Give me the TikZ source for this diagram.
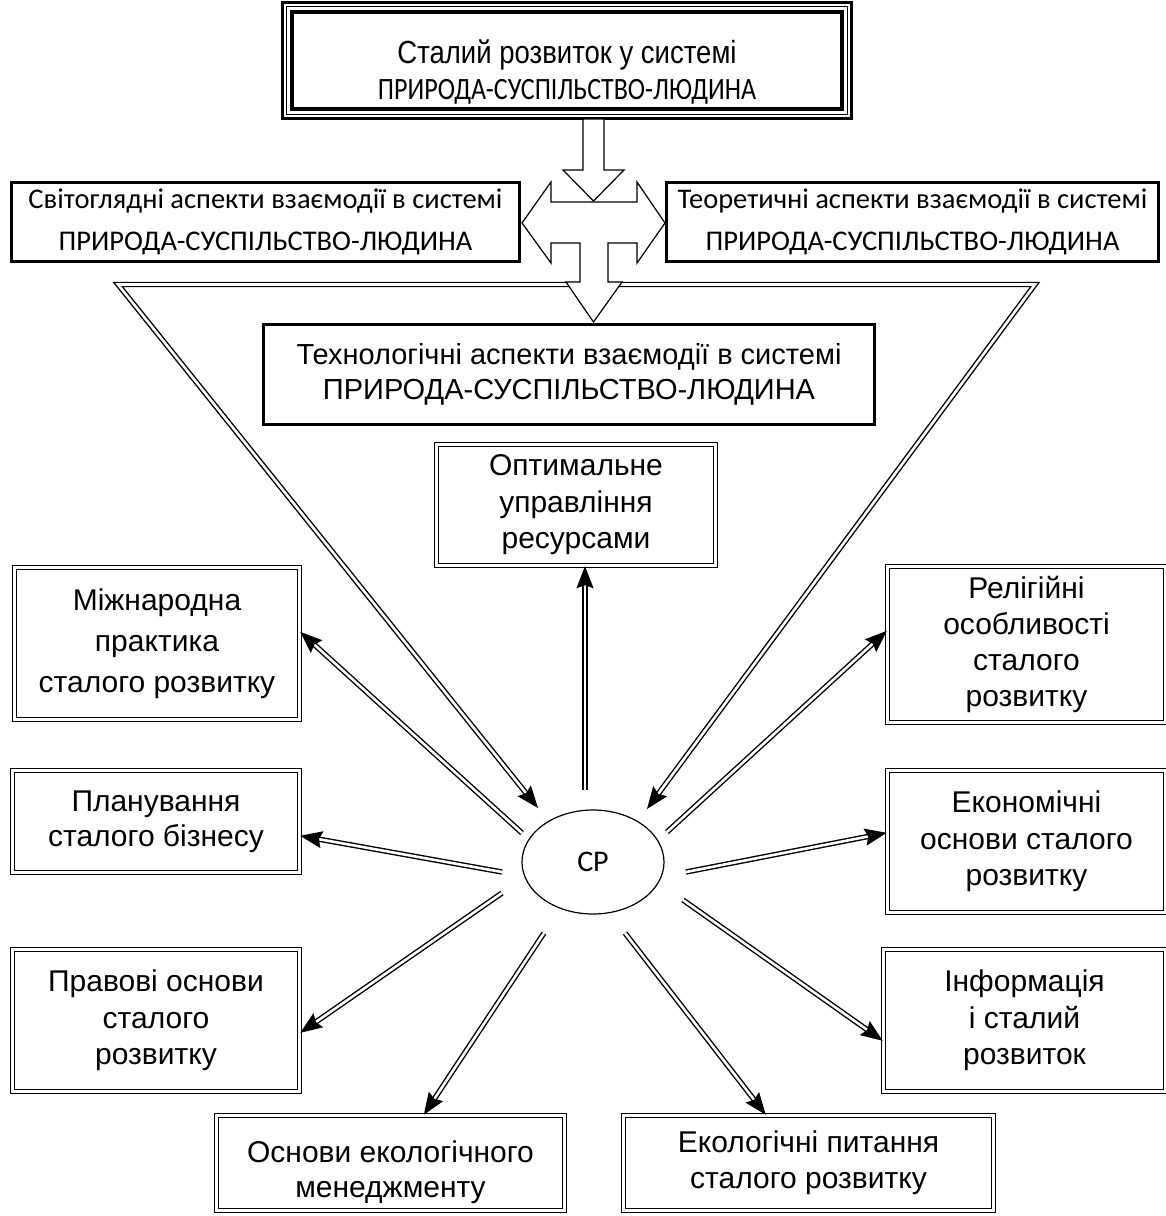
\documentclass[tikz,border=0pt]{standalone}
\usepackage{fontspec}
\setmainfont{Liberation Sans}
\newfontfamily\calibri{Carlito}
\newfontfamily\narrowsans{Liberation Sans}[FakeStretch=0.86]
\newfontfamily\narrowcalibri{Carlito}[FakeStretch=0.84]
\usetikzlibrary{arrows.meta,calc,shapes.geometric}

\begin{document}
\begin{tikzpicture}[x=1pt,y=-1pt,
            every node/.style={align=center, inner sep=0pt, font=\fontsize{30}{36.5}\selectfont},
            thickbox/.style={draw, rectangle, line width=3.2pt},
            dblbox/.style={draw, rectangle, double, double distance=2.4pt, line width=1.4pt},
            dblline/.style={double, double distance=2.6pt, line width=1.4pt, -{Stealth[length=22pt,width=17pt,inset=3pt]}},
            blockarrow/.style={draw, line width=1.2pt, fill=white, line join=miter}
            ]
            \useasboundingbox (0,0) rectangle (1166,1216);

            % Top of the scheme
            \node[thickbox, minimum width=550, minimum height=97, font=\narrowcalibri\fontsize{31}{36}\selectfont] (top) at (567,60.5)
                {\rule{0pt}{47pt}{\narrowsans\fontsize{32}{36}\selectfont Сталий розвиток у системі}\\ПРИРОДА-СУСПІЛЬСТВО-ЛЮДИНА};
            \draw[line width=2.4pt] ($(top.north west)+(-8,-8)$) rectangle ($(top.south east)+(8,8)$);
            \draw[line width=0.9pt] ($(top.north west)+(-4,-4)$) rectangle ($(top.south east)+(4,4)$);

            \node[thickbox, minimum width=508, minimum height=79, font=\calibri\fontsize{28.5}{42}\selectfont] (svit) at (265.5,222)
                {Світоглядні аспекти взаємодії в системі\\ПРИРОДА-СУСПІЛЬСТВО-ЛЮДИНА};
            \node[thickbox, minimum width=492, minimum height=79, font=\calibri\fontsize{28.5}{42}\selectfont] (teor) at (912.5,222)
                {Теоретичні аспекти взаємодії в системі\\ПРИРОДА-СУСПІЛЬСТВО-ЛЮДИНА};
            \node[thickbox, minimum width=611, minimum height=100, font=\fontsize{29}{35}\selectfont] (tech) at (569,374.5)
                {Технологічні аспекти взаємодії в системі\\ПРИРОДА-СУСПІЛЬСТВО-ЛЮДИНА};

            % Centre and the boxes round it
            \node[draw, ellipse, line width=1.2pt, minimum width=142, minimum height=104, font=\calibri\fontsize{30}{36}\selectfont] (cp) at (593,862) {СР};
            \node[dblbox, minimum width=279, minimum height=121] (opt) at (576,505) {Оптимальне\\управління\\ресурсами};
            \node[dblbox, minimum width=285, minimum height=152, font=\fontsize{30}{41}\selectfont] (mizh) at (157,643.5) {Міжнародна\\практика\\сталого розвитку};
            \node[dblbox, minimum width=287, minimum height=102, font=\fontsize{30}{35}\selectfont] (plan) at (156,821.5) {Планування\\сталого бізнесу};
            \node[dblbox, minimum width=287, minimum height=142] (prav) at (156,1020.5) {Правові основи\\сталого\\розвитку};
            \node[dblbox, minimum width=348, minimum height=95, font=\fontsize{30}{35}\selectfont] (osn) at (390.5,1163) {\rule{0pt}{41pt}Основи екологічного\\менеджменту};
            \node[dblbox, minimum width=370, minimum height=95, font=\fontsize{30}{36}\selectfont] (ekol) at (808.5,1163) {Екологічні питання\\сталого розвитку};
            \node[dblbox, minimum width=278, minimum height=156, font=\fontsize{30}{36}\selectfont] (relig) at (1026.5,644.5) {Релігійні\\особливості\\сталого\\розвитку};
            \node[dblbox, minimum width=278, minimum height=142] (ekon) at (1026.5,841.5) {Економічні\\основи сталого\\розвитку};
            \node[dblbox, minimum width=282, minimum height=142] (info) at (1024.5,1020.5) {Інформація\\і сталий\\розвиток};

            \coordinate (lcorner) at (118,284.5);
            \coordinate (rcorner) at (1035,284.5);
            \coordinate (stemL) at (581,284.5);
            \coordinate (stemR) at (607,284.5);

            % Double connectors
            \draw[dblline] (stemL) -- (lcorner) -- ($(cp)+(-55,-54)$);
            \draw[dblline] (stemR) -- (rcorner) -- ($(cp)+(54,-53)$);
            \draw[dblline] ($(cp)+(-8,-72)$) -- ($(opt.south)+(9,0)$);
            \draw[dblline] ($(cp)+(-71,-29)$) -- ($(mizh.north east)+(0,65)$);
            \draw[dblline] ($(cp)+(-91,10)$) -- ($(plan.north east)+(0,66)$);
            \draw[dblline] ($(cp)+(-91,31)$) -- ($(prav.north east)+(0,84)$);
            \draw[dblline] ($(cp)+(-49,71)$) -- ($(osn.north west)+(208,0)$);
            \draw[dblline] ($(cp)+(32,71)$) -- ($(ekol.north west)+(143,0)$);
            \draw[dblline] ($(cp)+(90,38)$) -- ($(info.north west)+(0,92)$);
            \draw[dblline] ($(cp)+(93,10)$) -- ($(ekon.north west)+(0,63)$);
            \draw[dblline] ($(cp)+(74,-30)$) -- ($(relig.north west)+(0,65)$);

            % Hollow block arrows
            \draw[blockarrow] (583,119) -- (604,119) -- (604,170) -- (624,170) -- (593.5,201) -- (563,170) -- (583,170) -- cycle;
            \draw[blockarrow] (522,223) -- (551,182) -- (551,202) -- (637,202) -- (637,182) -- (665,223) -- (637,263) -- (637,243)
                -- (608,243) -- (608,282) -- (622,282) -- (593.5,322) -- (566,282) -- (580,282) -- (580,243) -- (551,243) -- (551,263) -- cycle;
        \end{tikzpicture}
\end{document}
